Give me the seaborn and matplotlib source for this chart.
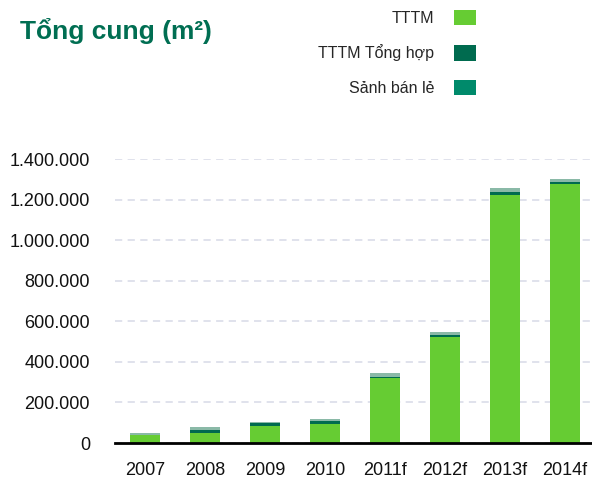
import numpy as np
import pandas as pd
import seaborn as sns
import matplotlib.pyplot as plt
from matplotlib.patches import Patch
from matplotlib.ticker import FuncFormatter

# values (m2)
years = ['2007', '2008', '2009', '2010', '2011f', '2012f', '2013f', '2014f']
tttm = [39000, 49000, 84000, 94000, 319000, 521000, 1223000, 1275000]
tttm_tong_hop = [0, 16000, 13000, 15000, 7000, 10000, 15000, 10000]
sanh_ban_le = [10000, 13000, 7000, 11000, 21000, 16000, 20000, 16000]

green = '#66cc33'
dark = '#006b4f'
teal = '#008a6b'
teal_light = '#8ab9a7'

df = pd.DataFrame({'year': years, 'tttm': tttm, 'tong_hop': tttm_tong_hop, 'sanh': sanh_ban_le})
df['lvl2'] = df['tttm'] + df['tong_hop']
df['lvl3'] = df['lvl2'] + df['sanh']

sns.set_theme(style='white')
plt.rcParams['font.family'] = ['Liberation Sans', 'DejaVu Sans']

fig = plt.figure(figsize=(5.92, 4.84), dpi=100)
ax = fig.add_axes([115 / 592, 41 / 484, 480 / 592, 284 / 484])

# stacked bars: draw cumulative totals back to front
for col, c in [('lvl3', teal_light), ('lvl2', dark), ('tttm', green)]:
    sns.barplot(data=df, x='year', y=col, color=c, width=0.5, saturation=1,
                edgecolor='none', linewidth=0, ax=ax)

ax.set_xlim(-0.5, 7.5)
ax.set_ylim(0, 1400000)
ax.set_yticks(np.arange(0, 1400001, 200000))
ax.yaxis.set_major_formatter(FuncFormatter(lambda v, p: f'{int(v):,}'.replace(',', '.')))
ax.set_xlabel('')
ax.set_ylabel('')
ax.grid(axis='y', color='#dddfeb', linestyle=(0, (4, 3)), linewidth=1.3)
ax.set_axisbelow(True)
for s in ['top', 'right', 'left']:
    ax.spines[s].set_visible(False)
ax.spines['bottom'].set_color('black')
ax.spines['bottom'].set_linewidth(2)
ax.tick_params(axis='both', length=0, labelsize=13, colors='#111111')
ax.tick_params(axis='x', pad=14)
ax.tick_params(axis='y', pad=18)

fig.text(20 / 592, 1 - 31 / 484, 'Tổng cung (m²)', fontsize=19, fontweight='bold',
         color='#006e52', va='center', ha='left')

handles = [Patch(facecolor=green, edgecolor='none'),
           Patch(facecolor=dark, edgecolor='none'),
           Patch(facecolor=teal, edgecolor='none')]
labels = ['TTTM', 'TTTM Tổng hợp', 'Sảnh bán lẻ']
fig.legend(handles, labels, loc='upper right', bbox_to_anchor=(476 / 592, 1 - 10 / 484),
           frameon=False, markerfirst=False, fontsize=11.5, handlelength=1.4,
           handleheight=1.1, handletextpad=1.2, labelspacing=1.15,
           borderpad=0, borderaxespad=0)

fig.savefig('out.png', dpi=100)
